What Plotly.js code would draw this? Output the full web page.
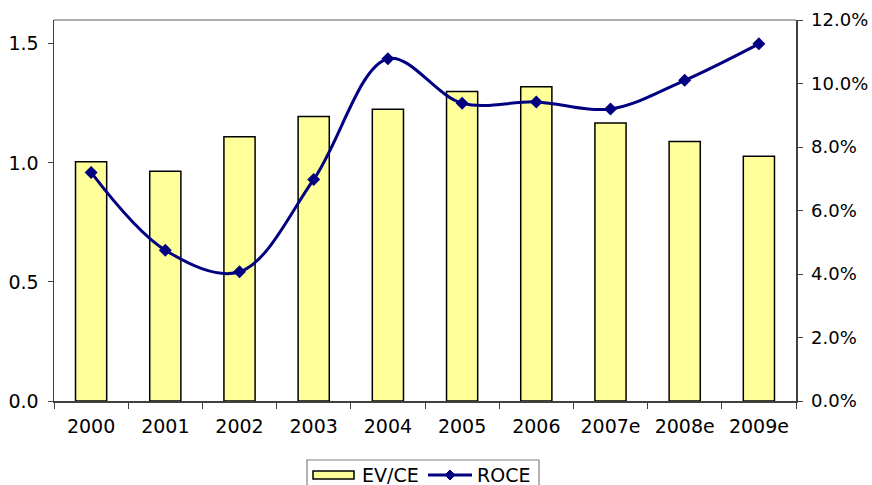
<!DOCTYPE html>
<html>
<head>
<meta charset="utf-8">
<script src="https://cdn.plot.ly/plotly-3.0.1.min.js"></script>
<style>
  html, body { margin: 0; padding: 0; background: #fff; }
  #chart { width: 872px; height: 485px; }
</style>
</head>
<body>
<div id="chart"></div>
<script>
// Years (e = estimate)
const years = ['2000', '2001', '2002', '2003', '2004', '2005', '2006', '2007e', '2008e', '2009e'];
// Enterprise value / capital employed (left axis)
const evce = [1.005, 0.965, 1.11, 1.195, 1.225, 1.30, 1.32, 1.167, 1.09, 1.028];
// Return on capital employed, in percent (right axis)
const roce = [7.2, 4.75, 4.07, 6.98, 10.78, 9.38, 9.42, 9.2, 10.1, 11.25];
const leftTicks = [0, 0.5, 1.0, 1.5];
const rightTicks = [0, 2, 4, 6, 8, 10, 12];

const FONT = 'DejaVu Sans, Verdana, sans-serif';
const FSIZE = 19;
const AXIS = '#404040';
const BAR_FILL = '#FFFF99';
const LINE_COL = '#000080';

const W = 872, H = 485;
const M = { l: 54, r: 76, t: 20, b: 84 };
// pixel -> paper coordinate helpers for the hand-built legend
const px = x => (x - M.l) / (W - M.l - M.r);
const py = y => (H - M.b - y) / (H - M.t - M.b);

const traces = [
  {
    type: 'bar',
    name: 'EV/CE',
    x: years,
    y: evce,
    width: 0.42,
    marker: { color: BAR_FILL, line: { color: '#000000', width: 1.5 } },
    hoverinfo: 'skip'
  },
  {
    type: 'scatter',
    mode: 'lines+markers',
    name: 'ROCE',
    x: years,
    y: roce,
    yaxis: 'y2',
    line: { color: LINE_COL, width: 3, shape: 'spline', smoothing: 1 },
    marker: { symbol: 'diamond', size: 10, color: LINE_COL },
    hoverinfo: 'skip'
  }
];

// Legend: framed box below the axis with a wide bar swatch and a line/diamond sample
const legendShapes = [
  { type: 'rect', xref: 'paper', yref: 'paper', x0: px(307), x1: px(539), y0: py(492), y1: py(460),
    line: { color: '#808080', width: 1.2 }, fillcolor: '#ffffff' },
  { type: 'rect', xref: 'paper', yref: 'paper', x0: px(313), x1: px(354), y0: py(479), y1: py(471),
    line: { color: '#000000', width: 1.5 }, fillcolor: BAR_FILL },
  { type: 'line', xref: 'paper', yref: 'paper', x0: px(428), x1: px(472), y0: py(475), y1: py(475),
    line: { color: LINE_COL, width: 3 } },
  { type: 'path', xref: 'paper', yref: 'paper',
    path: `M ${px(450)} ${py(470)} L ${px(455)} ${py(475)} L ${px(450)} ${py(480)} L ${px(445)} ${py(475)} Z`,
    line: { color: LINE_COL, width: 1 }, fillcolor: LINE_COL }
];
const legendLabels = [
  { text: traces[0].name, x: px(360), y: py(475) },
  { text: traces[1].name, x: px(475), y: py(475) }
].map(a => ({
  text: a.text, x: a.x, y: a.y, xref: 'paper', yref: 'paper',
  xanchor: 'left', yanchor: 'middle', showarrow: false,
  font: { family: FONT, size: FSIZE, color: '#000000' }
}));

const layout = {
  width: W,
  height: H,
  margin: { l: M.l, r: M.r, t: M.t, b: M.b, autoexpand: false },
  paper_bgcolor: '#ffffff',
  plot_bgcolor: '#ffffff',
  font: { family: FONT, size: FSIZE, color: '#000000' },
  showlegend: false,
  xaxis: {
    type: 'category',
    range: [-0.5, years.length - 0.5],
    tickson: 'boundaries',
    ticks: 'outside', ticklen: 6, tickcolor: AXIS, tickwidth: 1,
    showline: true, linecolor: AXIS, linewidth: 1.5,
    showgrid: false, zeroline: false,
    ticklabelstandoff: 8,
    tickfont: { family: FONT, size: FSIZE }
  },
  yaxis: {
    range: [0, 1.6],
    tickvals: leftTicks,
    ticktext: leftTicks.map(v => v.toFixed(1)),
    ticks: 'outside', ticklen: 5, tickcolor: AXIS, tickwidth: 1,
    showline: true, linecolor: AXIS, linewidth: 1.5,
    showgrid: false, zeroline: false,
    ticklabelstandoff: 5,
    tickfont: { family: FONT, size: FSIZE }
  },
  yaxis2: {
    overlaying: 'y',
    side: 'right',
    range: [0, 12],
    tickvals: rightTicks,
    ticktext: rightTicks.map(v => v.toFixed(1) + '%'),
    ticks: 'outside', ticklen: 5, tickcolor: AXIS, tickwidth: 1,
    showline: true, linecolor: AXIS, linewidth: 1.5,
    showgrid: false, zeroline: false,
    ticklabelstandoff: 5,
    tickfont: { family: FONT, size: 18 }
  },
  shapes: [
    // thin frame line along the top of the plot area
    { type: 'line', xref: 'paper', yref: 'paper', x0: 0, x1: 1, y0: 1, y1: 1,
      line: { color: '#909090', width: 1.5 } }
  ].concat(legendShapes),
  annotations: legendLabels
};

Plotly.newPlot('chart', traces, layout, { displayModeBar: false, staticPlot: true });
</script>
</body>
</html>
